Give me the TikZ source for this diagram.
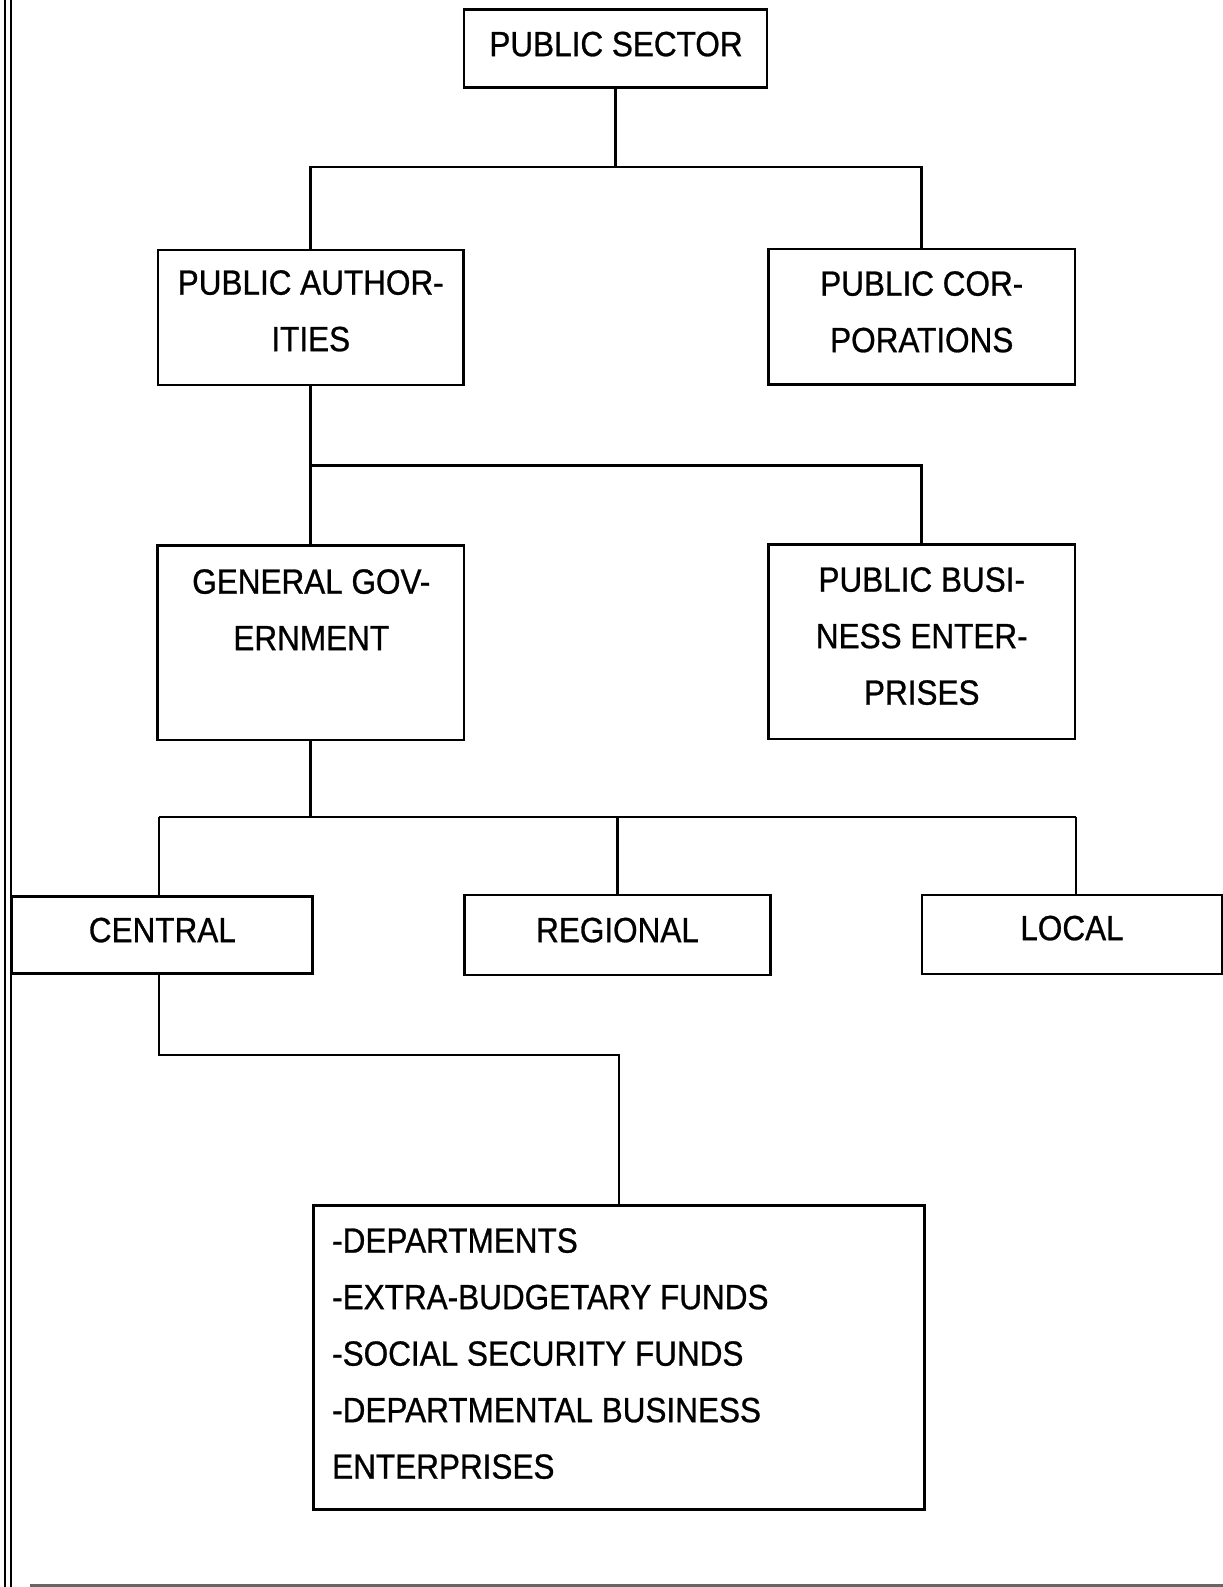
\documentclass[tikz,border=0pt]{standalone}
\usepackage{fontspec}
\setmainfont{Liberation Sans}[FakeStretch=0.9,FakeBold=0.8]
\begin{document}
\begin{tikzpicture}[x=1pt,y=-1pt,
  box/.style={draw, line width=2.7pt, rectangle, inner sep=0pt},
  txt/.style={inner sep=0pt, font=\fontsize{35}{56.5}\selectfont, align=center, anchor=north},
  txtl/.style={inner sep=0pt, font=\fontsize{35}{56.5}\selectfont, align=left, anchor=north west},
  conn/.style={line width=2.7pt}]
\useasboundingbox (0,0) rectangle (1223,1587);
% frame
\draw[line width=2pt] (5,0) -- (5,1587);
\draw[line width=2pt] (10.5,0) -- (10.5,1587);
\draw[line width=3pt, black!60] (30,1585.5) -- (1223,1585.5);
% boxes
\node[box, minimum width=303pt, minimum height=78pt] (ps) at (615.5,48.5) {};
\node[box, minimum width=305.5pt, minimum height=135pt] (pa) at (310.75,317.5) {};
\node[box, minimum width=306.5pt, minimum height=135.5pt] (pc) at (921.75,316.75) {};
\node[box, minimum width=306.5pt, minimum height=194.5pt] (gg) at (310.75,642.75) {};
\node[box, minimum width=306.5pt, minimum height=194.5pt] (pbe) at (921.75,641.75) {};
\node[box, minimum width=300.7pt, minimum height=77pt] (central) at (162.35,935) {};
\node[box, minimum width=305.7pt, minimum height=80pt] (regional) at (617.5,935) {};
\node[box, minimum width=300pt, minimum height=79pt] (local) at (1072,934.5) {};
\node[box, minimum width=610.5pt, minimum height=303.7pt] (list) at (619,1357.6) {};
% texts
\node[txt] (psT) at (616,31.5) {PUBLIC SECTOR};
\node[txt] (paT) at (310.75,270) {PUBLIC AUTHOR-\\ITIES};
\node[txt] (pcT) at (921.75,271) {PUBLIC COR-\\PORATIONS};
\node[txt] (ggT) at (311.25,569) {GENERAL GOV-\\ERNMENT};
\node[txt] (pbeT) at (921.75,567) {PUBLIC BUSI-\\NESS ENTER-\\PRISES};
\node[txt] (centralT) at (162.35,917.5) {CENTRAL};
\node[txt] (regionalT) at (617.5,917.5) {REGIONAL};
\node[txt] (localT) at (1072,915.5) {LOCAL};
\node[txtl] (listT) at (332,1228) {-DEPARTMENTS\\-EXTRA-BUDGETARY FUNDS\\-SOCIAL SECURITY FUNDS\\-DEPARTMENTAL BUSINESS\\ENTERPRISES};
% connectors
\coordinate (j1) at (615.5,167);
\draw[conn] (ps.south) -- (j1);
\draw[conn] (pa.north) |- (j1) -| (pc.north);
\coordinate (j2) at (310.75,465.7);
\draw[conn] (pa.south) -- (gg.north);
\draw[conn] (j2) -| (pbe.north);
\coordinate (j3) at (310.75,817);
\coordinate (c1) at (159,817);
\coordinate (c3) at (1076,817);
\draw[conn] (gg.south) -- (j3);
\draw[conn] (c1) -- (c3);
\draw[conn] (c1) -- (c1 |- central.north);
\draw[conn] (regional.north) -- (regional.north |- c1);
\draw[conn] (c3) -- (c3 |- local.north);
\coordinate (d1) at (159,1055);
\draw[conn] (d1 |- central.south) -- (d1) -| (list.north);
\end{tikzpicture}
\end{document}
